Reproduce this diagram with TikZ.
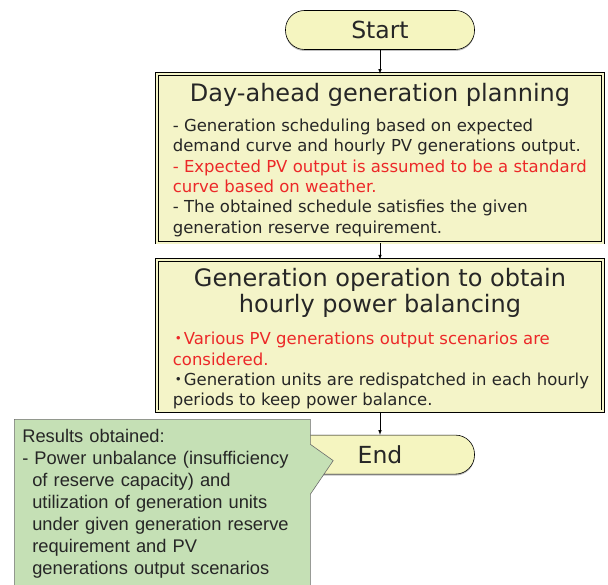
\documentclass[tikz,border=0pt]{standalone}
\usepackage{fontspec}
\setmainfont{Liberation Sans}
\newfontfamily\gothfont{DejaVu Sans}
\newfontfamily\cjkfont{Noto Sans CJK JP}
\usetikzlibrary{positioning,shapes.callouts,shadows}

\definecolor{boxyellow}{RGB}{244,244,200}
\definecolor{termyellow}{RGB}{245,245,192}
\definecolor{notegreen}{RGB}{197,224,181}
\definecolor{textgray}{RGB}{38,38,38}
\definecolor{notered}{RGB}{236,40,40}
\newcommand{\jdot}{\makebox[11pt][c]{\cjkfont ・}}

\begin{document}
\begin{tikzpicture}[x=1pt,y=-1pt,
    terminal/.style={draw=black, line width=0.6pt, fill=termyellow,
        rounded corners=19pt, minimum width=189pt, minimum height=39pt,
        inner sep=0pt, text=textgray, font=\gothfont\fontsize{23.5}{26}\selectfont,
        drop shadow={shadow xshift=0pt, shadow yshift=-1.5pt, opacity=0.5}},
    stepbox/.style={draw=black, double=boxyellow, double distance=2pt,
        line width=0.7pt, fill=boxyellow, minimum width=446pt, inner sep=0pt},
    boxtitle/.style={inner sep=0pt, align=center, text=textgray,
        font=\gothfont\fontsize{24}{26}\selectfont},
    boxbody/.style={inner sep=0pt, align=left, text=textgray, anchor=north west,
        font=\gothfont\fontsize{16.5}{20.3}\selectfont},
    flow/.style={->, >=latex, black, line width=0.6pt},
    note/.style={rectangle callout, draw=gray!85!black, fill=notegreen,
        line width=0.6pt, callout pointer width=50pt, align=left,
        text width=280pt, inner xsep=8pt, inner ysep=10pt, anchor=north west,
        text=textgray, font=\fontsize{18.3}{22}\selectfont}]
    \useasboundingbox (0,0) rectangle (608,585);

    % Start and the two steps
    \node[terminal] (start) at (380,30) {Start};
    \node[stepbox,
          minimum height=168.6pt,
          below=24pt of start] (plan) {};
    \node[boxtitle, below=9.5pt of plan.north] (plantitle)
        {Day-ahead generation planning};
    \node[boxbody] (planbody) at ([xshift=16pt, yshift=-45pt]plan.north west)
        {- Generation scheduling based on expected\\
         demand curve and hourly PV generations output.\\
         \textcolor{notered}{- Expected PV output is assumed to be a standard}\\
         \textcolor{notered}{curve based on weather.}\\
         - The obtained schedule satisfies the given\\
         generation reserve requirement.};

    \node[stepbox,
          minimum height=151.6pt,
          below=16.4pt of plan] (ops) {};
    \node[boxtitle, below=8.5pt of ops.north] (opstitle)
        {Generation operation to obtain\\ hourly power balancing};
    \node[boxbody] (opsbody) at ([xshift=16pt, yshift=-72.5pt]ops.north west)
        {\textcolor{notered}{\jdot Various PV generations output scenarios are}\\
         \textcolor{notered}{considered.}\\
         \jdot Generation units are redispatched in each hourly\\
         periods to keep power balance.};

    % End
    \node[terminal, below=23pt of ops] (finish) {End};

    % Connect the steps
    \draw[flow] (start) -- (plan);
    \draw[flow] (plan) -- (ops);
    \draw[flow] (ops) -- (finish);

    % Results callout
    \node[note,
          callout absolute pointer={([xshift=48pt, yshift=-6pt]finish.west)}]
          (results) at (14,419)
        {Results obtained:\\
         - Power unbalance (insufficiency\\
         \hspace*{10pt}of reserve capacity) and\\
         \hspace*{10pt}utilization of generation units\\
         \hspace*{10pt}under given generation reserve\\
         \hspace*{10pt}requirement and PV\\
         \hspace*{10pt}generations output scenarios};
\end{tikzpicture}
\end{document}
